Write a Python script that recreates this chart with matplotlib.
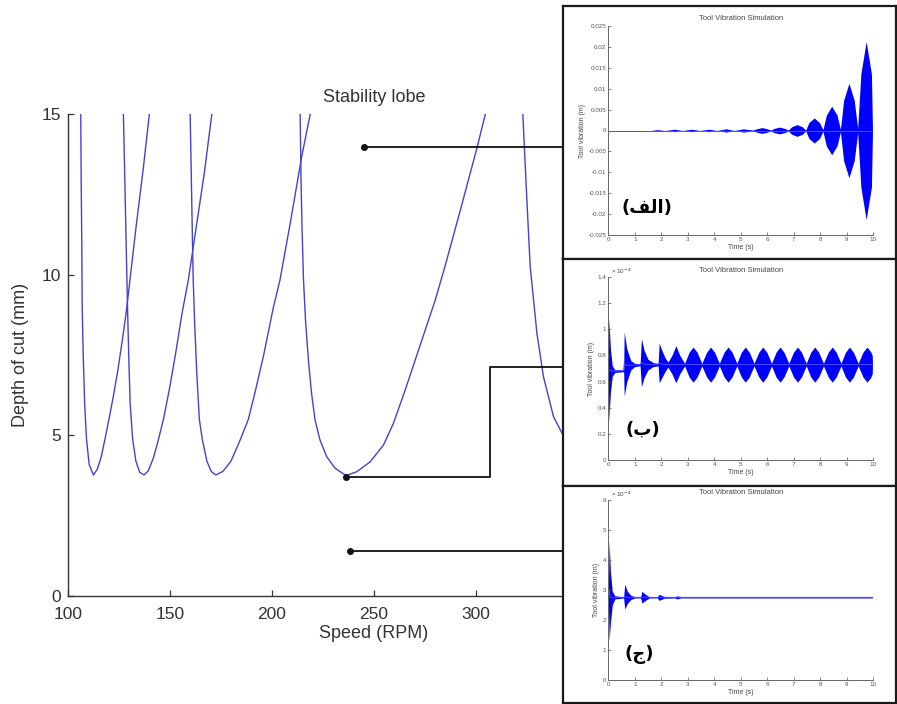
import matplotlib
matplotlib.use('Agg')
import matplotlib.pyplot as plt

plt.rcParams['font.family'] = ['Liberation Sans', 'DejaVu Sans']

W, H = 897, 704
LOBE = '#4343cc'
SIG = '#0000ff'
GREY = '#333333'

# ---- stability lobes (speed in RPM, depth of cut in mm)
lobe1_rpm = [106.4, 106.6, 106.9, 107.1, 107.6, 108.3, 109.2, 110.5, 112.6, 114.5, 116.5, 118.3,
             120.2, 122.3, 124.5, 126.6, 128.6, 130.5, 133.5, 137.0, 140.0]
lobe1_doc = [15.0, 13.0, 11.0, 9.0, 7.5, 6.0, 4.9, 4.1, 3.77, 3.95, 4.35, 4.9,
             5.5, 6.2, 7.0, 7.9, 8.8, 9.84, 11.5, 13.3, 15.0]
lobe2_rpm = [127.3, 127.8, 128.3, 128.8, 129.3, 129.9, 130.6, 131.8, 133.4, 135.3, 137.4,
             139.5, 142.0, 144.4, 146.9, 150.0, 153.0, 156.0, 159.1, 163.0, 167.0, 170.6]
lobe2_doc = [15.0, 13.5, 12.0, 10.5, 9.0, 7.5, 6.0, 4.9, 4.2, 3.85, 3.77,
             3.9, 4.3, 4.86, 5.5, 6.5, 7.6, 8.8, 9.84, 11.5, 13.2, 15.0]
lobe3_rpm = [160.0, 160.5, 161.0, 161.5, 162.2, 163.2, 164.5, 166.0, 168.2, 170.3, 172.6,
             176.0, 180.0, 184.5, 188.5, 192.0, 196.0, 200.8, 204.0, 209.0, 214.7, 218.8]
lobe3_doc = [15.0, 13.3, 11.5, 9.84, 8.5, 7.0, 5.5, 4.86, 4.2, 3.88, 3.77,
             3.88, 4.2, 4.86, 5.5, 6.4, 7.5, 9.0, 9.84, 11.6, 13.7, 15.0]
lobe4_rpm = [213.9, 214.3, 214.8, 215.5, 216.5, 218.0, 219.5, 221.2, 223.6, 226.9, 231.0, 236.4,
             241.6, 248.2, 254.7, 259.6, 265.0, 270.0, 275.0, 280.0, 285.0, 292.3, 300.5, 304.6]
lobe4_doc = [15.0, 13.0, 11.5, 9.9, 8.6, 7.3, 6.3, 5.48, 4.86, 4.34, 3.98, 3.75,
             3.87, 4.18, 4.7, 5.38, 6.35, 7.3, 8.25, 9.2, 10.3, 12.0, 13.95, 15.0]
lobe5_rpm = [323.0, 325.0, 326.6, 329.9, 333.1, 338.0, 342.2, 346.0]
lobe5_doc = [15.0, 12.3, 10.26, 8.18, 6.83, 5.59, 5.07, 4.7]
lobes = [(lobe1_rpm, lobe1_doc), (lobe2_rpm, lobe2_doc), (lobe3_rpm, lobe3_doc),
         (lobe4_rpm, lobe4_doc), (lobe5_rpm, lobe5_doc)]

x_ticks = [100, 150, 200, 250, 300, 350, 400]
y_ticks = [0, 5, 10, 15]

# cutting conditions picked for the three simulations (unstable, marginal, stable)
dot_rpm = [245.4, 236.4, 238.1]
dot_doc = [14.0, 3.7, 1.4]
elbow_rpm = 307.0
elbow_doc = 7.13
line_end_rpm = 346.0

# ---- tool vibration envelopes
# (a) growing chatter, symmetric about zero
t_a = [0.0, 1.6, 1.85, 2.15, 2.5, 2.8, 3.15, 3.45, 3.8, 4.1, 4.45, 4.75, 5.1, 5.45, 5.6, 5.8,
       6.0, 6.13, 6.26, 6.46, 6.66, 6.79, 6.92, 7.12, 7.32, 7.45, 7.57, 7.77, 7.97, 8.1, 8.23,
       8.43, 8.63, 8.76, 8.88, 9.08, 9.28, 9.41, 9.53, 9.73, 9.93, 9.97]
amp_a = [0.0, 0.0, 0.0002, 0.0, 0.0003, 0.0, 0.0003, 0.0, 0.0003, 0.0, 0.0004, 0.0, 0.0004,
         0.0001, 0.0004, 0.0007, 0.0004, 0.0001, 0.0005, 0.0008, 0.0005, 0.0001, 0.0009, 0.0014,
         0.0009, 0.0001, 0.0019, 0.003, 0.0019, 0.0002, 0.0037, 0.0058, 0.0037, 0.0003, 0.0072,
         0.0113, 0.0072, 0.0005, 0.0135, 0.0213, 0.0135, 0.0]

# (b) marginal, x 1e-4 m
t_b = [0.0, 0.02, 0.08, 0.15, 0.25, 0.58, 0.6, 0.7, 0.85, 1.0, 1.2, 1.25, 1.35, 1.5, 1.7,
       1.88, 1.92, 2.02, 2.15, 2.25, 2.4, 2.55, 2.7, 2.88, 3.05, 3.2, 3.35, 3.53, 3.71, 3.86,
       4.01, 4.19, 4.37, 4.52, 4.67, 4.85, 5.02, 5.17, 5.32, 5.5, 5.68, 5.83, 5.98, 6.16, 6.33,
       6.48, 6.63, 6.81, 6.99, 7.14, 7.29, 7.47, 7.64, 7.79, 7.94, 8.12, 8.3, 8.45, 8.6, 8.78,
       8.95, 9.1, 9.25, 9.43, 9.61, 9.76, 9.9, 9.96, 9.97]
up_b = [0.7, 1.09, 0.85, 0.72, 0.69, 0.69, 0.98, 0.85, 0.76, 0.74, 0.735, 0.93, 0.84, 0.77,
        0.745, 0.74, 0.895, 0.84, 0.78, 0.75, 0.8, 0.875, 0.8, 0.74, 0.825, 0.865, 0.825, 0.74,
        0.825, 0.865, 0.825, 0.74, 0.825, 0.865, 0.825, 0.74, 0.825, 0.865, 0.825, 0.74, 0.825,
        0.865, 0.825, 0.74, 0.825, 0.865, 0.825, 0.74, 0.825, 0.865, 0.825, 0.74, 0.825, 0.865,
        0.825, 0.74, 0.825, 0.865, 0.825, 0.74, 0.825, 0.865, 0.825, 0.74, 0.825, 0.865, 0.83,
        0.8, 0.73]
lo_b = [0.7, 0.29, 0.52, 0.64, 0.67, 0.675, 0.49, 0.6, 0.69, 0.715, 0.72, 0.56, 0.63, 0.69,
        0.715, 0.72, 0.59, 0.63, 0.68, 0.71, 0.66, 0.59, 0.66, 0.72, 0.635, 0.595, 0.635, 0.72,
        0.635, 0.595, 0.635, 0.72, 0.635, 0.595, 0.635, 0.72, 0.635, 0.595, 0.635, 0.72, 0.635,
        0.595, 0.635, 0.72, 0.635, 0.595, 0.635, 0.72, 0.635, 0.595, 0.635, 0.72, 0.635, 0.595,
        0.635, 0.72, 0.635, 0.595, 0.635, 0.72, 0.635, 0.595, 0.635, 0.72, 0.635, 0.595, 0.63,
        0.66, 0.73]

# (c) stable, x 1e-4 m
t_c = [0.0, 0.03, 0.08, 0.15, 0.25, 0.58, 0.62, 0.72, 0.85, 1.0, 1.22, 1.27, 1.4, 1.55, 1.85,
       1.92, 2.1, 2.5, 2.6, 2.75, 9.97]
up_c = [2.75, 4.64, 3.6, 2.95, 2.8, 2.77, 3.19, 2.95, 2.82, 2.77, 2.77, 2.95, 2.85, 2.77, 2.77,
        2.85, 2.78, 2.77, 2.8, 2.77, 2.77]
lo_c = [2.75, 1.31, 1.9, 2.5, 2.7, 2.73, 2.36, 2.55, 2.68, 2.73, 2.73, 2.56, 2.65, 2.73, 2.73,
        2.65, 2.72, 2.73, 2.7, 2.73, 2.73]

t_ticks = [0, 1, 2, 3, 4, 5, 6, 7, 8, 9, 10]
a_ticks = [0.025, 0.02, 0.015, 0.01, 0.005, 0, -0.005, -0.01, -0.015, -0.02, -0.025]
a_labels = ['0.025', '0.02', '0.015', '0.01', '0.005', '0', '-0.005', '-0.01', '-0.015', '-0.02', '-0.025']
b_ticks = [0, 0.2, 0.4, 0.6, 0.8, 1, 1.2, 1.4]
b_labels = ['0', '0.2', '0.4', '0.6', '0.8', '1', '1.2', '1.4']
c_ticks = [0, 1, 2, 3, 4, 5, 6]
c_labels = ['0', '1', '2', '3', '4', '5', '6']

tag_a = '(\ufed2\ufedf\ufe8d)'   # (الف)
tag_b = '(\ufe8f)'               # (ب)
tag_c = '(\ufe9d)'               # (ج)


fig = plt.figure(figsize=(W / 100, H / 100), dpi=100)
fig.patch.set_facecolor('white')


def px_axes(x0, y0, x1, y1):
    return fig.add_axes([x0 / W, 1 - y1 / H, (x1 - x0) / W, (y1 - y0) / H])


# ---- main stability lobe chart
ax = px_axes(67.7, 114.4, 680, 596)
for rpm, doc in lobes:
    ax.plot(rpm, doc, color=LOBE, lw=1.0)
ax.set_xlim(100, 400)
ax.set_ylim(0, 15)
ax.set_xticks(x_ticks)
ax.set_yticks(y_ticks)
ax.spines['top'].set_visible(False)
ax.spines['right'].set_visible(False)
for s in ['left', 'bottom']:
    ax.spines[s].set_color(GREY)
    ax.spines[s].set_linewidth(1.0)
ax.tick_params(direction='in', length=4, width=0.9, colors=GREY, labelsize=12.5)
ax.tick_params(axis='x', pad=8)
ax.tick_params(axis='y', pad=5)
ax.set_xlabel('Speed (RPM)', fontsize=13, color=GREY, labelpad=2)
ax.set_ylabel('Depth of cut (mm)', fontsize=13, color=GREY, labelpad=9)
ax.set_title('Stability lobe', fontsize=13, color=GREY, pad=9)

# connector lines to the three simulations
ax.plot([dot_rpm[0], line_end_rpm], [dot_doc[0], dot_doc[0]], color='#111111', lw=1.3)
ax.plot([dot_rpm[1], elbow_rpm, elbow_rpm, line_end_rpm],
        [dot_doc[1], dot_doc[1], elbow_doc, elbow_doc], color='#111111', lw=1.3)
ax.plot([dot_rpm[2], line_end_rpm], [dot_doc[2], dot_doc[2]], color='#111111', lw=1.3)
ax.plot(dot_rpm, dot_doc, 'o', color='#111111', ms=4)


def inset(frame, box, t, up, lo, yticks, ylabels, tag, tag_xy, scale=False):
    fr = px_axes(*frame)
    fr.set_xticks([])
    fr.set_yticks([])
    fr.set_facecolor('white')
    for s in fr.spines.values():
        s.set_color('#1a1a1a')
        s.set_linewidth(1.6)
    a = px_axes(*box)
    a.fill_between(t, lo, up, color=SIG, lw=0)
    a.plot(t, [(u + l) / 2 for u, l in zip(up, lo)], color='#4a4aff', lw=0.7)
    a.set_xlim(0, 10)
    a.set_ylim(min(yticks), max(yticks))
    a.set_xticks(t_ticks)
    a.set_yticks(yticks)
    a.set_yticklabels(ylabels)
    a.spines['top'].set_visible(False)
    a.spines['right'].set_visible(False)
    for s in ['left', 'bottom']:
        a.spines[s].set_color('#666666')
        a.spines[s].set_linewidth(0.7)
    a.tick_params(direction='in', length=2, width=0.5, colors='#555555', labelsize=4.5, pad=1.5)
    a.set_title('Tool Vibration Simulation', fontsize=5.5, color='#444444', pad=4)
    a.set_xlabel('Time (s)', fontsize=5, color='#444444', labelpad=1.5)
    a.set_ylabel('Tool vibration (m)', fontsize=5, color='#444444', labelpad=2)
    if scale:
        a.text(0.01, 1.005, '\u00d7 10$^{-4}$', transform=a.transAxes, fontsize=4.5,
               color='#444444', ha='left', va='bottom')
    a.text(tag_xy[0], tag_xy[1], tag, transform=a.transAxes, fontsize=13,
           fontweight='bold', family=['DejaVu Sans'], color='black', ha='center', va='center')
    return a


inset((563, 6, 896, 259), (608.3, 26, 873.3, 235), t_a,
      amp_a, [-v for v in amp_a], a_ticks, a_labels, tag_a, (0.146, 0.13))
inset((563, 259, 896, 486), (608.3, 277.3, 873.3, 459.7), t_b,
      up_b, lo_b, b_ticks, b_labels, tag_b, (0.13, 0.163), scale=True)
inset((563, 486, 896, 703), (608.3, 499.7, 873.3, 680), t_c,
      up_c, lo_c, c_ticks, c_labels, tag_c, (0.117, 0.144), scale=True)

fig.savefig('out.png', dpi=100, facecolor='white')
